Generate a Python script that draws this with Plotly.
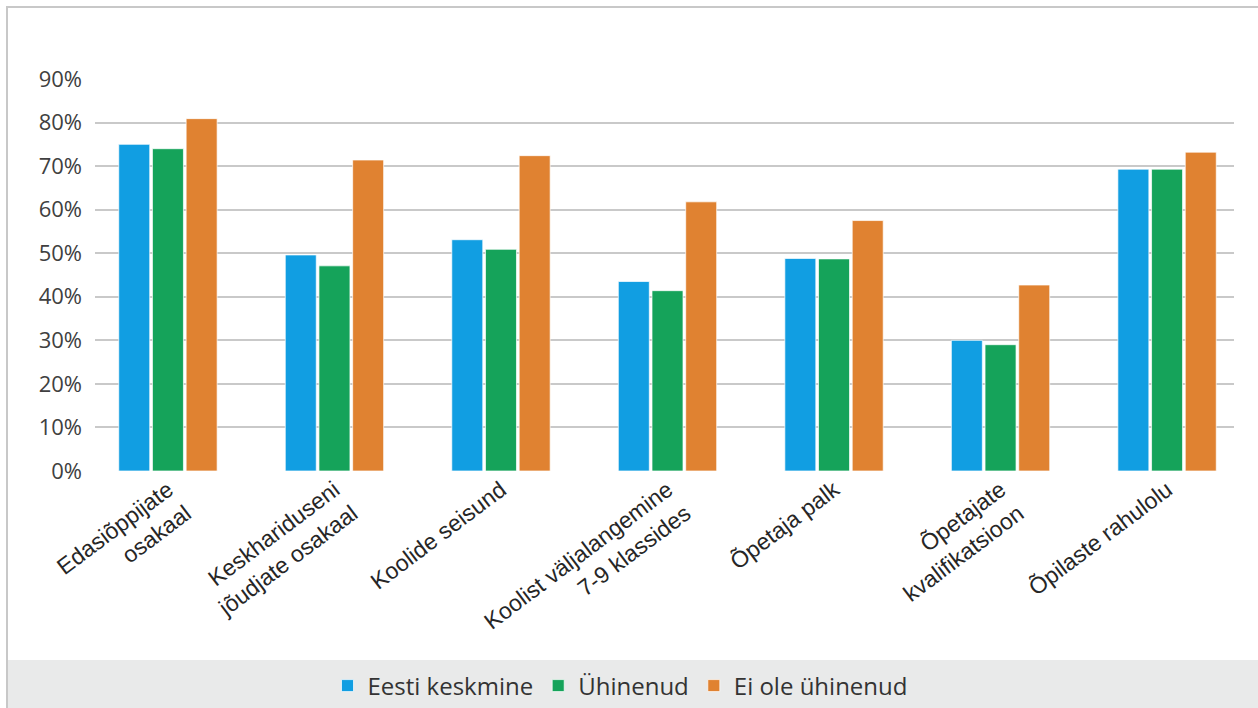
import plotly.graph_objects as go

categories = [
    "Edasiõppijate<br>osakaal",
    "Keskhariduseni<br>jõudjate osakaal",
    "Koolide seisund",
    "Koolist väljalangemine<br>7-9 klassides",
    "Õpetaja palk",
    "Õpetajate<br>kvalifikatsioon",
    "Õpilaste rahulolu",
]
eesti_keskmine = [0.75, 0.496, 0.531, 0.435, 0.488, 0.300, 0.693]
uhinenud = [0.740, 0.471, 0.509, 0.414, 0.487, 0.290, 0.693]
ei_ole_uhinenud = [0.809, 0.714, 0.724, 0.618, 0.575, 0.427, 0.732]

series_names = ["Eesti keskmine", "Ühinenud", "Ei ole ühinenud"]
colors = ["#119ee2", "#15a35a", "#e08231"]
yticks = [0, 0.1, 0.2, 0.3, 0.4, 0.5, 0.6, 0.7, 0.8, 0.9]

fig = go.Figure()
for name, vals, col in zip(series_names, [eesti_keskmine, uhinenud, ei_ole_uhinenud], colors):
    fig.add_trace(go.Bar(
        x=list(range(len(categories))), y=vals, name=name,
        marker=dict(color=col, line=dict(color="rgba(255,255,255,0.7)", width=1)),
    ))

W, H = 1258, 708
L, R, T, B = 95, 24, 79, 237
pw = W - L - R
ph = H - T - B

def px_x(p):
    return (p - L) / pw

def px_y(p):
    return (H - B - p) / ph

fig.update_layout(
    width=W, height=H,
    margin=dict(l=L, r=R, t=T, b=B, autoexpand=False),
    paper_bgcolor="white", plot_bgcolor="white",
    barmode="group", bargap=0.393, bargroupgap=0.08,
    font=dict(family="Liberation Sans, Arial", color="#404040"),
    xaxis=dict(
        tickmode="array", tickvals=list(range(len(categories))), ticktext=categories,
        range=[-0.438, 6.402], tickangle=-37, showgrid=False, zeroline=False,
        showline=False, ticks="", automargin=False,
        tickfont=dict(family="Liberation Sans, Arial", size=23, color="#262626"),
    ),
    yaxis=dict(
        range=[0, 0.9], tickvals=yticks, tickformat=".0%",
        showgrid=True, gridcolor="#c9c9c9", gridwidth=2, zeroline=False,
        showline=False, ticks="", ticklabelstandoff=12, automargin=False,
        tickfont=dict(family="Open Sans, Noto Sans", size=22, color="#404040"),
    ),
    showlegend=True,
    legend=dict(
        orientation="h", x=px_x(620), xanchor="center", y=px_y(686), yanchor="middle",
        font=dict(family="Open Sans, Noto Sans", size=24, color="#333333"),
        bgcolor="rgba(0,0,0,0)", itemwidth=30,
    ),
    shapes=[
        dict(type="rect", xref="paper", yref="paper", x0=px_x(8), x1=px_x(1260),
             y0=px_y(710), y1=px_y(660), fillcolor="#e9eaea", line=dict(width=0), layer="below"),
        dict(type="line", xref="paper", yref="paper", x0=px_x(7), x1=px_x(7),
             y0=px_y(6), y1=px_y(710), line=dict(color="#c8c8c8", width=2)),
        dict(type="line", xref="paper", yref="paper", x0=px_x(6), x1=px_x(1260),
             y0=px_y(7), y1=px_y(7), line=dict(color="#c8c8c8", width=2)),
    ],
)

fig.write_html("out.html")
